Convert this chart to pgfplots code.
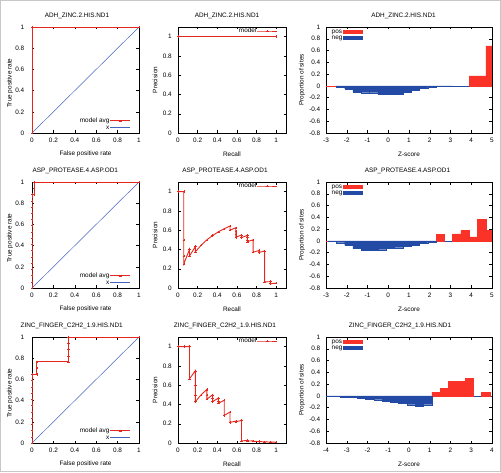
\documentclass[border=0pt]{standalone}
\usepackage{fontspec}
\setmainfont{Liberation Sans}
\usepackage{pgfplots}
\pgfplotsset{compat=1.18}
\definecolor{lred}{RGB}{228,40,30}
\definecolor{hred}{RGB}{250,50,40}
\definecolor{hblue}{RGB}{35,75,165}
\definecolor{lblue}{RGB}{70,100,190}
\newcommand{\fs}{\fontsize{6.4}{7.2}\selectfont}
\pgfplotsset{
  every axis title/.style={at={(0.5,1)}, anchor=center, yshift=11pt, inner sep=0pt, font=\fs},
  every axis x label/.style={at={(0.5,0)}, anchor=center, yshift=-21pt, inner sep=0pt, font=\fs},
  every axis y label/.style={at={(-0.2,0.5)}, rotate=90, anchor=center, inner sep=0pt, font=\fs},
  base/.style={
    scale only axis, height=106pt, anchor=south west,
    font=\fs,
    /pgf/number format/assume math mode=true,
    axis line style={line width=0.6pt},
    every tick/.style={black, line width=0.4pt},
    major tick length=2.5pt,
    tick label style={font=\fs},
    xticklabel style={anchor=center, yshift=-7.5pt, inner sep=0pt},
    yticklabel style={anchor=east, xshift=-6pt, inner sep=0pt},
  },
  roc/.style={base, width=107pt, xmin=0, xmax=1, ymin=0, ymax=1,
    xtick={0,0.2,0.4,0.6,0.8,1}, ytick={0,0.2,0.4,0.6,0.8,1},
    yticklabel style={xshift=-1.5pt},
    xlabel={False positive rate}, ylabel={True positive rate},
    ylabel style={at={(-0.206,0.47)}},
    legend style={draw=none, fill=none, at={(1,0)}, anchor=south east, xshift=-8pt, yshift=2pt,
      inner sep=0pt, row sep=0pt, font=\fs, nodes={inner sep=0.5pt, text height=4.4pt, text depth=1.2pt}},
    legend cell align=right, legend plot pos=right,
    legend image code/.code={\draw[mark repeat=2,mark phase=2,##1] plot coordinates {(2pt,0pt)(12pt,0pt)(22pt,0pt)};},
  },
  pr/.style={base, width=108pt, xmin=0, xmax=1.1, ymin=0, ymax=1.1,
    xtick={0,0.2,0.4,0.6,0.8,1}, ytick={0,0.2,0.4,0.6,0.8,1},
    xlabel={Recall}, ylabel={Precision},
    ylabel style={at={(-0.213,0.5)}},
    legend style={draw=none, fill=none, at={(1,1)}, anchor=north east, xshift=-8pt, yshift=-0.5pt,
      inner sep=0pt, font=\fs, nodes={inner sep=0.5pt, text height=4.4pt, text depth=1.2pt}},
    legend cell align=right, legend plot pos=right,
    legend image code/.code={\draw[mark repeat=2,mark phase=2,##1] plot coordinates {(3pt,0pt)(13pt,0pt)(23pt,0pt)};},
  },
  hist/.style={base, width=166pt, ymin=-0.8, ymax=1,
    ytick={-0.8,-0.6,-0.4,-0.2,0,0.2,0.4,0.6,0.8,1},
    yticklabel style={xshift=0.5pt},
    xlabel={Z-score}, ylabel={Proportion of sites},
    ylabel style={at={(-0.145,0.5)}},
    legend style={draw=none, fill=none, at={(0,1)}, anchor=north west, xshift=5pt, yshift=-1.5pt,
      inner sep=0pt, row sep=0pt, font=\fs, nodes={inner sep=0.5pt, text height=4.2pt, text depth=1pt}},
    legend cell align=left, legend plot pos=right,
    legend image code/.code={\fill[##1] (3pt,-2pt) rectangle (23pt,2pt);},
  },
  mline/.style={lred, line width=0.9pt, mark=+, mark size=1.2pt, mark options={solid, line width=0.4pt}},
  dline/.style={lblue, line width=0.5pt},
  zpos/.style={hred, line width=0.6pt, forget plot},
  zneg/.style={hblue, line width=0.6pt, forget plot},
  pbar/.style={ybar interval, fill=hred, draw=hred, line width=0.3pt, forget plot},
  nbar/.style={ybar interval, fill=hblue, draw=hblue, line width=0.3pt, forget plot},
}
\begin{document}
\begin{tikzpicture}
\useasboundingbox (0,0) rectangle (501pt,472pt);
\draw[black!22, line width=0.8pt] (0.4pt,0.4pt) rectangle (500.6pt,471.6pt);

% ---------------- Row 1 ----------------
\begin{axis}[roc, at={(32pt,339pt)}, title={ADH\_ZINC.2.HIS.ND1}, title style={at={(0.42,1)}}]
\addplot[mline] coordinates {(0,0)(0,1)(1,1)};
\addlegendentry{model avg}
\addplot[dline] coordinates {(0,0)(1,1)};
\addlegendentry{x}
\end{axis}

\begin{axis}[pr, at={(178pt,339pt)}, title={ADH\_ZINC.2.HIS.ND1}, title style={at={(0.454,1)}}]
\addplot[mline] coordinates {(0,1)(1,1)};
\addlegendentry{model}
\end{axis}

\begin{axis}[hist, at={(326pt,339pt)}, xmin=-3, xmax=5, xtick={-3,-2,-1,0,1,2,3,4,5},
  title={ADH\_ZINC.2.HIS.ND1}, title style={at={(0.467,1)}}]
\addlegendimage{fill=hred, draw=none}\addlegendentry{pos}
\addlegendimage{fill=hblue, draw=none}\addlegendentry{neg}
\addplot[zpos] coordinates {(-3,0)(5,0)};
\addplot[zneg] coordinates {(-2.5,0)(3.9,0)};
\addplot[pbar] coordinates {(3.9,0.17)(4.3,0.17)(4.7,0.68)(5.1,0.68)};
\addplot[nbar] coordinates {(-2.5,-0.02)(-2.1,-0.05)(-1.7,-0.10)(-1.3,-0.115)(-0.9,-0.115)(-0.5,-0.135)(-0.1,-0.14)(0.3,-0.145)(0.7,-0.10)(1.1,-0.07)(1.5,-0.045)(1.9,-0.025)(2.3,-0.01)(2.7,-0.005)(3.1,-0.005)};
\end{axis}

% ---------------- Row 2 ----------------
\begin{axis}[roc, at={(32pt,184pt)}, title={ASP\_PROTEASE.4.ASP.OD1}, title style={at={(0.405,1)}}]
\addplot[mline] coordinates {(0,0)(0,0.0588)(0,0.1176)(0,0.1765)(0,0.2353)(0,0.2941)(0,0.3529)(0,0.4118)(0,0.4706)(0,0.5294)(0,0.5882)(0,0.6471)(0,0.7059)(0,0.7647)(0,0.8235)(0,0.8824)(0.02,0.8824)(0.02,0.9412)(0.02,1)(1,1)};
\addlegendentry{model avg}
\addplot[dline] coordinates {(0,0)(1,1)};
\addlegendentry{x}
\end{axis}

\begin{axis}[pr, at={(178pt,184pt)}, title={ASP\_PROTEASE.4.ASP.OD1}, title style={at={(0.435,1)}}]
\addplot[mline] coordinates {(0,1)(0.0588,1)(0.0588,0.5)(0.0588,0.333)(0.0588,0.25)(0.1176,0.4)(0.1176,0.333)(0.1765,0.429)(0.1765,0.375)(0.2353,0.444)(0.2941,0.5)(0.3529,0.545)(0.4118,0.583)(0.4706,0.615)(0.5294,0.643)(0.5294,0.6)(0.5882,0.625)(0.5882,0.588)(0.5882,0.556)(0.5882,0.526)(0.6471,0.55)(0.6471,0.524)(0.7059,0.545)(0.7059,0.522)(0.7059,0.5)(0.7059,0.48)(0.7647,0.5)(0.7647,0.371)(0.8235,0.389)(0.8235,0.368)(0.8824,0.385)(0.8824,0.063)(0.9412,0.066)(0.9412,0.045)(1,0.05)};
\addlegendentry{model}
\end{axis}

\begin{axis}[hist, at={(326pt,184pt)}, xmin=-3, xmax=5, xtick={-3,-2,-1,0,1,2,3,4,5},
  title={ASP\_PROTEASE.4.ASP.OD1}, title style={at={(0.491,1)}}]
\addlegendimage{fill=hred, draw=none}\addlegendentry{pos}
\addlegendimage{fill=hblue, draw=none}\addlegendentry{neg}
\addplot[zpos] coordinates {(-3,0)(5,0)};
\addplot[zneg] coordinates {(-2.9,0)(5,0)};
\addplot[pbar] coordinates {(2.3,0.12)(2.7,0.12)};
\addplot[pbar] coordinates {(3.1,0.12)(3.5,0.18)(3.9,0.07)(4.3,0.37)(4.7,0.18)(5.1,0.18)};
\addplot[nbar] coordinates {(-2.9,-0.01)(-2.5,-0.03)(-2.1,-0.075)(-1.7,-0.13)(-1.3,-0.155)(-0.9,-0.155)(-0.5,-0.15)(-0.1,-0.13)(0.3,-0.115)(0.7,-0.09)(1.1,-0.07)(1.5,-0.045)(1.9,-0.02)(2.3,-0.02)};
\end{axis}

% ---------------- Row 3 ----------------
\begin{axis}[roc, at={(32pt,29pt)}, title={ZINC\_FINGER\_C2H2\_1.9.HIS.ND1}, title style={at={(0.371,1)}}]
\addplot[mline] coordinates {(0,0)(0,0.0588)(0,0.1176)(0,0.1765)(0,0.2353)(0,0.2941)(0,0.3529)(0,0.4118)(0,0.4706)(0,0.5294)(0,0.5882)(0,0.6471)(0.044,0.6471)(0.044,0.7059)(0.044,0.7647)(0.34,0.7647)(0.34,0.8235)(0.34,0.8824)(0.34,0.9412)(0.34,1)(1,1)};
\addlegendentry{model avg}
\addplot[dline] coordinates {(0,0)(1,1)};
\addlegendentry{x}
\end{axis}

\begin{axis}[pr, at={(178pt,29pt)}, title={ZINC\_FINGER\_C2H2\_1.9.HIS.ND1}, title style={at={(0.435,1)}}]
\addplot[mline] coordinates {(0,1)(0.0588,1)(0.1176,1)(0.1176,0.667)(0.1765,0.75)(0.1765,0.6)(0.1765,0.5)(0.1765,0.429)(0.2353,0.5)(0.2941,0.556)(0.2941,0.5)(0.2941,0.455)(0.3529,0.5)(0.3529,0.462)(0.3529,0.429)(0.4118,0.467)(0.4118,0.438)(0.4118,0.412)(0.4706,0.444)(0.4706,0.286)(0.5294,0.321)(0.5294,0.214)(0.5882,0.227)(0.5882,0.22)(0.6471,0.234)(0.6471,0.023)(0.7059,0.025)(0.7059,0.02)(0.7647,0.022)(0.7647,0.018)(0.8235,0.015)(0.8824,0.012)(0.9412,0.01)(1,0.008)};
\addlegendentry{model}
\end{axis}

\begin{axis}[hist, at={(326pt,29pt)}, xmin=-4, xmax=4, xtick={-4,-3,-2,-1,0,1,2,3,4},
  title={ZINC\_FINGER\_C2H2\_1.9.HIS.ND1}, title style={at={(0.446,1)}}]
\addlegendimage{fill=hred, draw=none}\addlegendentry{pos}
\addlegendimage{fill=hblue, draw=none}\addlegendentry{neg}
\addplot[zpos] coordinates {(-4,0)(4,0)};
\addplot[zneg] coordinates {(-4,0)(4,0)};
\addplot[pbar] coordinates {(1.1,0.063)(1.5,0.13)(1.9,0.25)(2.3,0.25)(2.7,0.30)(3.1,0.30)};
\addplot[pbar] coordinates {(3.5,0.07)(3.9,0.07)};
\addplot[nbar] coordinates {(-4.1,-0.005)(-3.7,-0.01)(-3.3,-0.015)(-2.9,-0.02)(-2.5,-0.035)(-2.1,-0.05)(-1.7,-0.065)(-1.3,-0.085)(-0.9,-0.10)(-0.5,-0.125)(-0.1,-0.15)(0.3,-0.17)(0.7,-0.15)(1.1,-0.15)};
\end{axis}
\end{tikzpicture}
\end{document}
